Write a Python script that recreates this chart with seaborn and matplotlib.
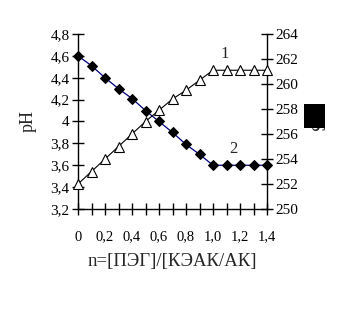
import matplotlib
matplotlib.use("Agg")
import matplotlib.pyplot as plt
import seaborn as sns
import pandas as pd
from matplotlib.ticker import FixedLocator, FixedFormatter, MultipleLocator
from matplotlib.patches import Rectangle

# data
n_vals = [0.0, 0.1, 0.2, 0.3, 0.4, 0.5, 0.6, 0.7, 0.8, 0.9, 1.0, 1.1, 1.2, 1.3, 1.4]
s_curve1 = [252.0, 253.0, 254.0, 255.0, 256.0, 257.0, 257.9, 258.8, 259.5, 260.3, 261.1, 261.1, 261.1, 261.1, 261.1]
ph_curve2 = [4.60, 4.51, 4.40, 4.30, 4.21, 4.10, 4.00, 3.90, 3.79, 3.70, 3.60, 3.60, 3.60, 3.60, 3.60]

x_ticks = [0.0, 0.2, 0.4, 0.6, 0.8, 1.0, 1.2, 1.4]
x_labels = ["0", "0,2", "0,4", "0,6", "0,8", "1,0", "1,2", "1,4"]
ph_ticks = [3.2, 3.4, 3.6, 3.8, 4.0, 4.2, 4.4, 4.6, 4.8]
ph_labels = ["3,2", "3,4", "3,6", "3,8", "4", "4,2", "4,4", "4,6", "4,8"]
s_ticks = [250, 252, 254, 256, 258, 260, 262, 264]
s_labels = ["250", "252", "254", "256", "258", "260", "262", "264"]

sns.set_style("white")
plt.rcParams["font.family"] = ["Liberation Serif", "DejaVu Serif"]

fig = plt.figure(figsize=(3.49, 3.25), dpi=100)
ax = fig.add_axes([78/349, 1-209/325, (267-78)/349, (209-34)/325])
ax2 = ax.twinx()

df2 = pd.DataFrame({"n": n_vals, "pH": ph_curve2})
df1 = pd.DataFrame({"n": n_vals, "S": s_curve1})

sns.lineplot(data=df2, x="n", y="pH", ax=ax, color="#000080", lw=0.9,
             marker="D", markersize=5.3, markerfacecolor="black",
             markeredgecolor="black", zorder=3, clip_on=False)
sns.lineplot(data=df1, x="n", y="S", ax=ax2, color="black", lw=0.8,
             marker="^", markersize=7, markerfacecolor="white",
             markeredgecolor="black", markeredgewidth=0.8, zorder=3,
             clip_on=False)

ax.set_xlim(0, 1.4)
ax.set_ylim(3.2, 4.8)
ax2.set_ylim(250, 264)

ax.xaxis.set_major_locator(FixedLocator(x_ticks))
ax.xaxis.set_major_formatter(FixedFormatter(x_labels))
ax.xaxis.set_minor_locator(MultipleLocator(0.1))
ax.yaxis.set_major_locator(FixedLocator(ph_ticks))
ax.yaxis.set_major_formatter(FixedFormatter(ph_labels))
ax2.yaxis.set_major_locator(FixedLocator(s_ticks))
ax2.yaxis.set_major_formatter(FixedFormatter(s_labels))

for a in (ax, ax2):
    a.spines["top"].set_visible(False)
    for sp in a.spines.values():
        sp.set_linewidth(1.0)
        sp.set_color("black")
ax.spines["right"].set_visible(False)
ax2.spines["left"].set_visible(False)
ax2.spines["bottom"].set_visible(False)

ax.tick_params(axis="x", which="both", direction="inout", length=9, width=1,
               bottom=True, labelsize=10.5, pad=11, colors="black")
ax.tick_params(axis="y", which="major", direction="inout", length=8, width=1,
               left=True, labelsize=11, pad=2, colors="black")
ax2.tick_params(axis="y", which="major", direction="inout", length=8, width=1,
                right=True, labelsize=11, pad=2, colors="black")

ax.set_xlabel("n=[ПЭГ]/[КЭАК/АК]", fontsize=13.5, labelpad=7)
ax.set_ylabel("pH", fontsize=13, labelpad=10)
ax2.set_ylabel("")

ax.text(1.09, 4.62, "1", fontsize=12, ha="center", va="center")
ax.text(1.15, 3.75, "2", fontsize=12, ha="center", va="center")

fig.text(314/349, 1-127/325, "S", rotation=270, fontsize=13,
         ha="center", va="center")
fig.patches.append(Rectangle((304/349, 1-128/325), 21/349, 24/325,
                             transform=fig.transFigure, facecolor="black",
                             edgecolor="none", zorder=5))

fig.savefig("out.png", dpi=100)
